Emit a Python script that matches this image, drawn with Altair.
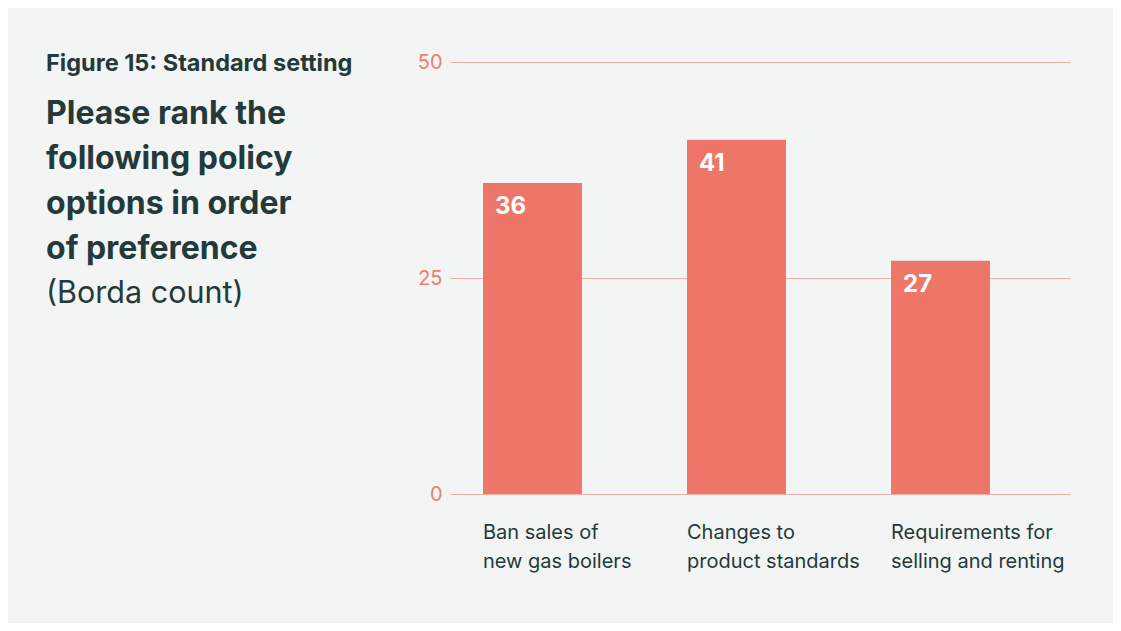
import altair as alt
import pandas as pd

categories = ["Ban sales of\nnew gas boilers", "Changes to\nproduct standards", "Requirements for\nselling and renting"]
values = [36, 41, 27]
y_ticks = [0, 25, 50]
figure_label = "Figure 15: Standard setting"
question_lines = ["Please rank the", "following policy", "options in order", "of preference"]
note = "(Borda count)"

FONT = "Inter"
DARK = "#24393a"
BAR = "#ee7668"
SALMON = "#f07e6e"
GRID = "#f6b1a6"
BG = "#f3f5f4"

df = pd.DataFrame({"cat": categories, "value": values})
one = pd.DataFrame({"k": [0]})

x = alt.X("cat:N", sort=categories, title=None,
          scale=alt.Scale(paddingInner=0.515, paddingOuter=0.277, align=0.292),
          axis=alt.Axis(labelExpr="split(datum.label, '\\n')", labelAlign="left", labelOffset=-49.5,
                        labelAngle=0, labelBaseline="top", labelPadding=28, labelLineHeight=29,
                        labelFont=FONT, labelFontSize=20, labelColor=DARK, ticks=False, domain=False,
                        grid=False, labelLimit=0))
y = alt.Y("value:Q", title=None,
          scale=alt.Scale(domain=[0, 50], nice=False),
          axis=alt.Axis(values=y_ticks, grid=True, gridColor=GRID, gridWidth=1, ticks=False, domain=False,
                        labelFont=FONT, labelFontSize=20, labelColor=SALMON, labelPadding=8))

bars = alt.Chart(df).mark_bar(color=BAR).encode(x=x, y=y)
labels = alt.Chart(df).mark_text(align="left", baseline="alphabetic", dx=12, dy=31, font=FONT,
                                 fontSize=24, fontWeight="bold", color="white").encode(
    x=alt.X("cat:N", sort=categories, bandPosition=0), y="value:Q", text="value:Q")

fig = alt.Chart(one).mark_text(align="left", baseline="alphabetic", font=FONT, fontSize=23.5,
                               fontWeight="bold", color=DARK, text=figure_label).encode(
    x=alt.value(-404), y=alt.value(9))
q = alt.Chart(one).mark_text(align="left", baseline="alphabetic", font=FONT, fontSize=32,
                             fontWeight="bold", color=DARK, lineHeight=45, text=question_lines).encode(
    x=alt.value(-404), y=alt.value(61.5))
n = alt.Chart(one).mark_text(align="left", baseline="alphabetic", font=FONT, fontSize=30.5,
                             fontWeight="normal", color=DARK, text=note).encode(
    x=alt.value(-404), y=alt.value(241))

chart = alt.layer(bars, labels, fig, q, n).properties(
    width=620, height=432,
    autosize=alt.AutoSizeParams(type="none"),
    padding={"left": 442, "top": 54, "right": 43, "bottom": 129},
    background=BG,
).configure_view(stroke=None)

chart.save("out.html", embed_options={"renderer": "svg", "actions": False})
